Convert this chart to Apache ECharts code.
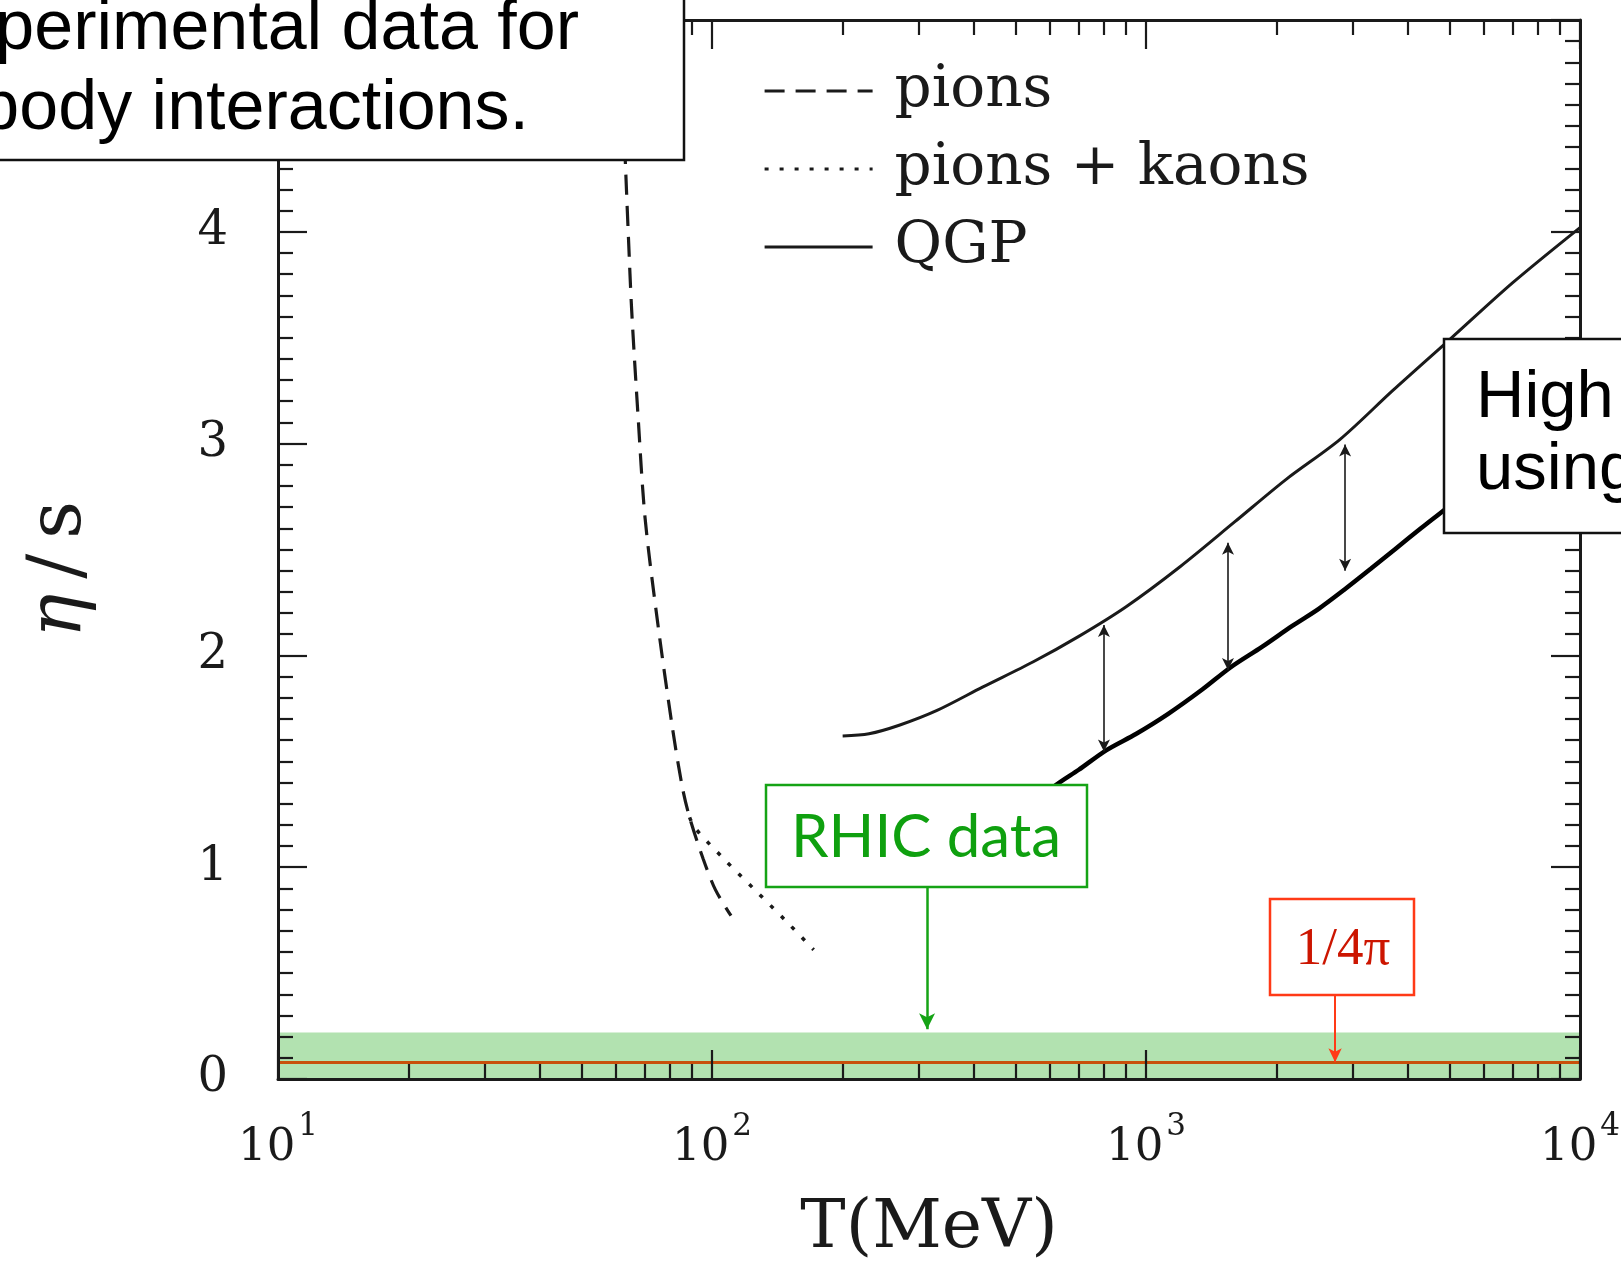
<!DOCTYPE html>
<html>
<head>
<meta charset="utf-8">
<script src="https://cdn.jsdelivr.net/npm/echarts@6/dist/echarts.min.js"></script>
<style>
  html, body { margin: 0; padding: 0; background: #fff; }
  #chart { width: 1621px; height: 1273px; }
</style>
</head>
<body>
<div id="chart"></div>
<script>
// Shear viscosity to entropy ratio eta/s versus temperature T (MeV)

// pion gas (dashed)
const pionsT   = [61.3, 63.2, 64.2, 65.3, 67.5, 70.1, 74.9, 80.9, 85.4, 88.8, 95.4, 101.8, 110.6];
const pionsEta = [5.0, 4.31, 3.97, 3.63, 3.14, 2.65, 2.16, 1.67, 1.38, 1.235, 1.04, 0.894, 0.771];

// pions + kaons (dotted)
const kaonsT   = [88.8, 91.2, 106.4, 125.4, 147.9, 171.5];
const kaonsEta = [1.235, 1.187, 1.04, 0.894, 0.747, 0.61];

// QGP, perturbative (thin solid)
const qgpT   = [200, 230, 270, 330, 420, 550, 700, 900, 1200, 1600, 2100, 2800, 3700, 5000, 7000, 10000];
const qgpEta = [1.62, 1.63, 1.67, 1.74, 1.85, 1.97, 2.09, 2.23, 2.42, 2.63, 2.83, 3.02, 3.25, 3.49, 3.76, 4.02];

// QGP, improved calculation (thick solid)
const qgp2T   = [560, 615, 700, 811, 950, 1125, 1350, 1565, 1850, 2173, 2500, 2862, 3300, 3767, 4300, 4957, 5600];
const qgp2Eta = [1.30, 1.382, 1.46, 1.553, 1.63, 1.724, 1.84, 1.943, 2.04, 2.139, 2.22, 2.31, 2.41, 2.505, 2.60, 2.70, 2.79];

// vertical double arrows between the two QGP curves
const gapT    = [800, 1545, 2876];
const gapLow  = [1.546, 1.931, 2.40];
const gapHigh = [2.143, 2.532, 2.996];

// RHIC band and the KSS bound
const rhicBand = [0, 0.22];
const kssBound = 1 / (4 * Math.PI);
const rhicArrow = { T: 313, from: 0.905, to: 0.235 };
const kssArrow  = { T: 2727, from: 0.458, to: kssBound };

// axes
const xMin = 10, xMax = 10000;
const yMin = 0, yMax = 5;
const xMinorTicks = [20, 30, 40, 50, 60, 70, 80, 90, 200, 300, 400, 500, 600, 700, 800, 900,
                     2000, 3000, 4000, 5000, 6000, 7000, 8000, 9000];
const seriesNames = ['pions', 'pions + kaons', 'QGP'];

const zip = (xs, ys) => xs.map((x, i) => [x, ys[i]]);

const INK = '#1a1a1a';
const SERIF = '"DejaVu Serif", serif';

function logAxis(position, withLabels, minor) {
  return {
    type: 'log', logBase: 10, min: xMin, max: xMax, position: position,
    gridIndex: 0, z: 5,
    axisLine: { show: !minor, onZero: false, lineStyle: { color: INK, width: 3 } },
    axisTick: minor
      ? { show: true, inside: true, length: 15, customValues: xMinorTicks, lineStyle: { color: INK, width: 2.2 } }
      : { show: true, inside: true, length: 29, lineStyle: { color: INK, width: 2.2 } },
    axisLabel: (withLabels && !minor) ? {
      show: true, margin: 41,
      formatter: v => '{b|10}{s|' + Math.round(Math.log10(v)) + '}',
      rich: {
        b: { fontFamily: SERIF, fontSize: 45, color: INK, lineHeight: 56 },
        // exponent: extra bottom padding lifts it above the base line
        s: { fontFamily: SERIF, fontSize: 31, color: INK, lineHeight: 56, padding: [0, 0, 42, 3] }
      }
    } : { show: false },
    splitLine: { show: false },
    name: (withLabels && !minor) ? 'T(MeV)' : '',
    nameLocation: 'middle', nameGap: 116,
    nameTextStyle: { fontFamily: SERIF, fontSize: 68, color: INK }
  };
}

function valueAxis(position, withLabels) {
  return {
    type: 'value', min: yMin, max: yMax, interval: 1, position: position, z: 5,
    axisLine: { show: true, onZero: false, lineStyle: { color: INK, width: 3 } },
    axisTick: { show: true, inside: true, length: 29, lineStyle: { color: INK, width: 2.2 } },
    minorTick: { show: true, splitNumber: 10, length: 15, lineStyle: { color: INK, width: 2.2 } },
    axisLabel: withLabels ? { show: true, margin: 50, fontFamily: SERIF, fontSize: 48, color: INK } : { show: false },
    splitLine: { show: false },
    name: withLabels ? '{e|η}\u2009/\u2009s' : '',
    nameLocation: 'middle', nameGap: 180, nameRotate: 90,
    nameTextStyle: {
      fontFamily: SERIF, fontSize: 74, color: INK, padding: [0, 40, 0, 0],
      rich: { e: { fontFamily: SERIF, fontSize: 74, fontStyle: 'italic', color: INK } }
    }
  };
}

const arrowPairs = gapT.map((t, i) => [
  { coord: [t, gapLow[i]], symbol: 'arrow', symbolSize: [9, 12] },
  { coord: [t, gapHigh[i]], symbol: 'arrow', symbolSize: [9, 12],
    lineStyle: { color: INK, width: 1.6, type: 'solid' } }
]);

const option = {
  backgroundColor: '#ffffff',
  animation: false,
  grid: { left: 278, right: 41, top: 20, bottom: 194, containLabel: false, outerBoundsMode: 'none' },
  xAxis: [logAxis('bottom', true, false), logAxis('bottom', false, true),
          logAxis('top', false, false), logAxis('top', false, true)],
  yAxis: [valueAxis('left', true), valueAxis('right', false)],
  legend: {
    data: seriesNames,
    orient: 'vertical', left: 758, top: 57,
    itemWidth: 108, itemHeight: 20, itemGap: 20,
    selectedMode: false,
    itemStyle: { opacity: 0 },
    lineStyle: { width: 3.2 },
    textStyle: { fontFamily: SERIF, fontSize: 58, color: INK, lineHeight: 57, padding: [0, 0, 0, 17] }
  },
  series: [
    {
      name: 'RHIC data', type: 'line', data: [], silent: true, z: 1,
      markArea: {
        silent: true,
        itemStyle: { color: '#b2e2b0', opacity: 1 },
        data: [[{ yAxis: rhicBand[0] }, { yAxis: rhicBand[1] }]]
      },
      markLine: {
        silent: true, symbol: ['none', 'none'],
        label: { show: false },
        data: [
          { yAxis: kssBound, lineStyle: { color: '#c8500a', width: 3, type: 'solid' } },
          [
            { coord: [rhicArrow.T, rhicArrow.from], symbol: 'none' },
            { coord: [rhicArrow.T, rhicArrow.to], symbol: 'arrow', symbolSize: [12, 16],
              lineStyle: { color: '#15a315', width: 2.5, type: 'solid' } }
          ],
          [
            { coord: [kssArrow.T, kssArrow.from], symbol: 'none' },
            { coord: [kssArrow.T, kssArrow.to], symbol: 'arrow', symbolSize: [10, 14],
              lineStyle: { color: '#ff3a17', width: 2, type: 'solid' } }
          ]
        ].concat(arrowPairs)
      }
    },
    {
      name: 'pions', type: 'line', data: zip(pionsT, pionsEta),
      symbol: 'none', smooth: 0.3, z: 3,
      lineStyle: { color: INK, width: 3.2, type: [20, 11] }, itemStyle: { color: INK }
    },
    {
      name: 'pions + kaons', type: 'line', data: zip(kaonsT, kaonsEta),
      symbol: 'none', smooth: 0.3, z: 3,
      lineStyle: { color: INK, width: 3.5, type: [4, 11] }, itemStyle: { color: INK }
    },
    {
      name: 'QGP', type: 'line', data: zip(qgpT, qgpEta),
      symbol: 'none', smooth: 0.3, z: 3,
      lineStyle: { color: INK, width: 3, type: 'solid' }, itemStyle: { color: INK }
    },
    {
      name: 'QGP improved', type: 'line', data: zip(qgp2T, qgp2Eta),
      symbol: 'none', smooth: 0.3, z: 3,
      lineStyle: { color: '#000', width: 4.5, type: 'solid' }, itemStyle: { color: '#000' }
    }
  ],
  graphic: [
    // caption box, top left
    { type: 'rect', z: 50, shape: { x: -10, y: -10, width: 694, height: 170 },
      style: { fill: '#fff', stroke: '#111', lineWidth: 2.5 } },
    { type: 'text', z: 51, style: { text: 'perimental data for', x: 579, y: 30,
      font: '70px "Liberation Sans", Arial, sans-serif', fill: '#000', textAlign: 'right', textVerticalAlign: 'middle' } },
    { type: 'text', z: 51, style: { text: 'body interactions.', x: 529, y: 110,
      font: '70px "Liberation Sans", Arial, sans-serif', fill: '#000', textAlign: 'right', textVerticalAlign: 'middle' } },
    // caption box, right
    { type: 'rect', z: 50, shape: { x: 1444, y: 339, width: 200, height: 194 },
      style: { fill: '#fff', stroke: '#111', lineWidth: 2.5 } },
    { type: 'text', z: 51, style: { text: 'High', x: 1476, y: 399,
      font: '67px "Liberation Sans", Arial, sans-serif', fill: '#000', textAlign: 'left', textVerticalAlign: 'middle' } },
    { type: 'text', z: 51, style: { text: 'using', x: 1476, y: 471,
      font: '67px "Liberation Sans", Arial, sans-serif', fill: '#000', textAlign: 'left', textVerticalAlign: 'middle' } },
    // RHIC label
    { type: 'rect', z: 50, shape: { x: 766, y: 785, width: 321, height: 102 },
      style: { fill: '#fff', stroke: '#15a315', lineWidth: 2.5 } },
    { type: 'text', z: 51, style: { text: 'RHIC data', x: 926, y: 838,
      font: '60px Lato, "Open Sans", sans-serif', fill: '#0fa00f', textAlign: 'center', textVerticalAlign: 'middle' } },
    // KSS label
    { type: 'rect', z: 50, shape: { x: 1270, y: 899, width: 144, height: 96 },
      style: { fill: '#fff', stroke: '#ff3a17', lineWidth: 2.5 } },
    { type: 'text', z: 51, style: { text: '1/4π', x: 1343, y: 950,
      font: '53px "Liberation Serif", "Times New Roman", serif', fill: '#cc1500', textAlign: 'center', textVerticalAlign: 'middle' } }
  ]
};

const chart = echarts.init(document.getElementById('chart'), null, { renderer: 'canvas' });
chart.setOption(option);
</script>
</body>
</html>
